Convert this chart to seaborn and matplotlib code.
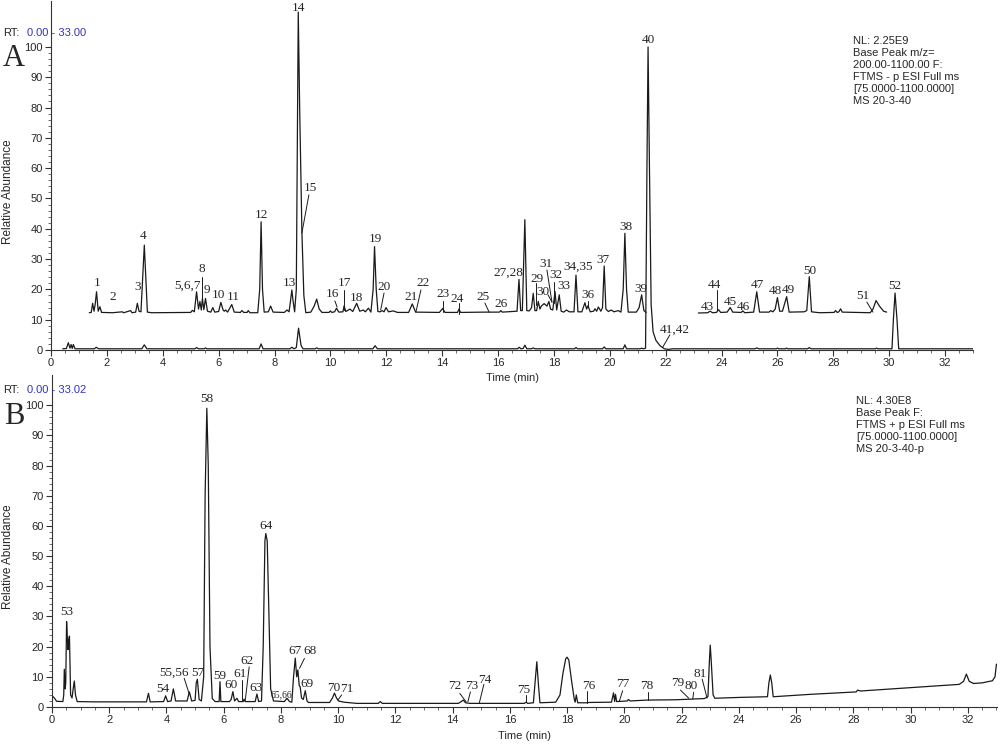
import numpy as np
import pandas as pd
import matplotlib
matplotlib.use('Agg')
import matplotlib.pyplot as plt
from matplotlib.ticker import MultipleLocator, FixedLocator
import seaborn as sns

sns.set_style('ticks')
plt.rcParams['font.family'] = ['Liberation Sans', 'DejaVu Sans']

# ---- panel A : upper (zoomed, offset) trace, first segment ----
a_up1_t = [1.37, 1.44, 1.49, 1.54, 1.58, 1.63, 1.69, 1.75, 1.81, 2.2, 2.55, 2.6, 2.85, 2.9, 3.03, 3.09, 3.15,
           3.22, 3.34, 3.45, 3.6, 5.0, 5.06, 5.13, 5.21, 5.28, 5.33, 5.38, 5.42, 5.47, 5.53, 5.6, 5.72, 5.79,
           5.86, 6.0, 6.08, 6.16, 6.2, 6.25, 6.32, 6.47, 6.56, 6.78, 6.83, 6.9, 7.02, 7.06, 7.12, 7.4, 7.47,
           7.52, 7.57, 7.63, 7.78, 7.86, 7.95, 8.35, 8.45, 8.52, 8.57, 8.62, 8.66, 8.72, 8.78, 8.85, 8.9, 8.98,
           9.05, 9.12, 9.3, 9.42, 9.51, 9.6, 9.7, 9.95, 10.0, 10.05, 10.15, 10.22, 10.3, 10.45, 10.49, 10.55,
           10.7, 10.8, 10.94, 11.05, 11.18, 11.25, 11.36, 11.45, 11.53, 11.58, 11.64, 11.7, 11.78, 11.85,
           11.92, 11.99, 12.08, 12.25, 12.4, 12.8, 12.93, 13.05, 13.9, 14.02, 14.1, 14.55, 14.6, 14.66, 15.5,
           16.05, 16.1, 16.15, 16.55, 16.68, 16.75, 16.81, 16.87, 16.96, 17.03, 17.12, 17.2, 17.26, 17.32,
           17.38, 17.44, 17.5, 17.55, 17.65, 17.75, 17.82, 17.88, 17.96, 18.04, 18.1, 18.19, 18.26, 18.35,
           18.45, 18.55, 18.72, 18.79, 18.86, 19.0, 19.11, 19.17, 19.22, 19.3, 19.42, 19.47, 19.53, 19.59,
           19.68, 19.74, 19.8, 19.86, 19.95, 20.05, 20.15, 20.3, 20.4, 20.48, 20.54, 20.6, 20.66, 20.95,
           21.05, 21.14, 21.22, 21.3]
a_up1_v = [12.3, 12.4, 15.4, 12.8, 15.0, 19.2, 12.8, 14.3, 12.4, 12.3, 12.6, 12.3, 13.0, 12.3, 12.5, 15.4, 12.8,
           12.6, 34.6, 12.5, 12.3, 12.4, 13.1, 12.6, 19.2, 13.5, 16.0, 13.2, 17.0, 13.3, 17.0, 12.8, 12.5, 14.0,
           12.5, 12.7, 15.7, 13.2, 12.8, 13.2, 12.5, 15.0, 12.5, 12.4, 13.0, 12.4, 12.4, 13.0, 12.3, 12.3, 20.0,
           42.3, 20.0, 12.5, 12.6, 14.5, 12.5, 12.4, 13.2, 12.6, 16.0, 19.8, 16.5, 12.6, 20.0, 111.5, 80.0, 39.0,
           18.0, 12.3, 12.5, 14.5, 16.8, 13.5, 12.4, 12.4, 12.9, 12.4, 12.6, 13.8, 12.5, 12.6, 14.6, 12.7,
           13.5, 12.7, 15.4, 12.8, 13.2, 12.6, 13.8, 12.5, 20.0, 34.1, 20.0, 12.7, 12.6, 13.0,
           12.6, 14.0, 12.6, 12.9, 12.4, 12.4, 15.2, 12.5, 12.4, 13.7, 12.4, 12.4, 13.5, 12.4, 12.5,
           12.5, 13.0, 12.5, 12.7, 12.8, 23.3, 13.0, 13.0, 43.0, 13.0, 12.9, 14.0, 18.7, 13.0,
           13.0, 16.0, 13.5, 14.5, 15.3, 14.5, 16.0, 13.5, 13.2, 19.3, 13.2, 18.2, 12.8, 12.5,
           13.2, 12.6, 12.6, 24.7, 12.6, 12.6, 15.6, 13.5, 14.6, 12.6, 12.8, 13.6, 12.8, 14.2,
           12.8, 14.0, 27.7, 13.5, 12.7, 13.2, 12.6, 13.0, 12.5, 20.0, 38.5, 20.0, 12.5, 12.5,
           14.0, 18.2, 13.0, 12.4]

# ---- panel A : upper trace, second segment ----
a_up2_t = [23.17, 23.5, 23.59, 23.68, 23.82, 23.89, 23.97, 24.2, 24.31, 24.4, 24.7, 24.76, 24.83, 25.15, 25.26,
           25.36, 25.7, 25.76, 25.84, 25.92, 26.0, 26.08, 26.18, 26.33, 26.42, 26.95, 27.05, 27.14, 27.22,
           27.5, 28.03, 28.08, 28.14, 28.2, 28.26, 28.32, 29.32, 29.42, 29.53, 29.65, 29.8, 29.91]
a_up2_v = [12.2, 12.3, 12.8, 12.3, 12.4, 13.3, 12.4, 12.5, 14.0, 12.5, 12.4, 12.9, 12.3, 12.5, 19.2,
           12.5, 12.5, 13.0, 12.6, 13.5, 17.3, 12.8, 12.8, 17.6, 12.5, 12.6, 13.0, 24.2, 12.6,
           12.3, 12.4, 13.0, 12.4, 12.6, 13.6, 12.5, 12.3, 13.5, 16.3, 14.5, 12.8, 12.5]

# ---- panel A : lower (full scale) trace ----
a_low_t = [0.42, 0.55, 0.62, 0.68, 0.72, 0.76, 0.8, 0.86, 1.55, 1.62, 1.7, 3.25, 3.34, 3.43, 5.15, 5.21, 5.28,
           5.48, 5.53, 5.58, 7.45, 7.52, 7.59, 8.55, 8.62, 8.7, 8.78, 8.86, 8.95, 9.02, 9.45, 9.51, 9.57,
           11.52, 11.6, 11.68, 16.7, 16.76, 16.82, 16.9, 16.96, 17.03, 17.2, 17.26, 17.32, 18.74, 18.79,
           18.85, 19.74, 19.8, 19.86, 20.48, 20.54, 20.6, 21.08, 21.14, 21.2, 21.28, 21.33, 21.37, 21.42,
           21.48, 21.55, 21.65, 21.8, 21.95, 22.1, 22.25, 25.2, 25.26, 25.33, 25.95, 26.0, 26.05, 26.28,
           26.33, 26.38, 27.08, 27.14, 27.2, 29.5, 29.55, 29.6, 30.1, 30.15, 30.21, 30.28, 30.34, 33.0]
a_low_v = [0.4, 0.5, 2.4, 0.6, 1.8, 0.5, 1.8, 0.4, 0.4, 0.9, 0.4, 0.4, 1.7, 0.4, 0.4, 0.8, 0.4,
           0.4, 0.7, 0.4, 0.4, 2.0, 0.4, 0.4, 0.9, 0.4, 0.8, 7.2, 1.5, 0.4, 0.4, 0.7, 0.4,
           0.4, 1.4, 0.4, 0.4, 0.9, 0.4, 0.5, 1.6, 0.4, 0.4, 0.7, 0.4, 0.4, 0.8,
           0.4, 0.4, 1.0, 0.4, 0.4, 1.7, 0.4, 0.4, 0.6, 0.4, 0.6, 60.0, 100.0, 60.0,
           15.0, 6.0, 3.2, 1.4, 0.4, 0.2, 0.4, 0.4, 0.7, 0.4, 0.4, 0.6, 0.4, 0.4,
           0.6, 0.4, 0.4, 0.8, 0.4, 0.4, 0.6, 0.4, 0.4, 10.0, 18.8, 10.0, 0.4, 0.4]

# ---- panel B trace ----
b_t = [0.0, 0.08, 0.16, 0.38, 0.41, 0.43, 0.46, 0.48, 0.51, 0.54, 0.56, 0.58, 0.61, 0.63, 0.65, 0.7, 0.74,
       0.78, 0.82, 0.88, 1.5, 2.5, 3.3, 3.37, 3.43, 3.9, 3.97, 4.04, 4.16, 4.24, 4.32, 4.72, 4.8, 4.88,
       5.0, 5.04, 5.08, 5.14, 5.22, 5.3, 5.35, 5.41, 5.46, 5.52, 5.6, 5.7, 5.84, 5.87, 5.9, 6.2, 6.26,
       6.32, 6.38, 6.46, 6.52, 6.68, 6.71, 6.75, 7.1, 7.16, 7.22, 7.32, 7.38, 7.44, 7.47, 7.52, 7.58,
       7.64, 7.74, 8.12, 8.21, 8.3, 8.38, 8.44, 8.5, 8.55, 8.59, 8.64, 8.67, 8.72, 8.78, 8.85, 8.91,
       8.96, 9.7, 9.8, 9.87, 9.94, 10.01, 10.2, 10.65, 11.4, 11.47, 11.54, 14.2, 14.3, 14.37, 14.45,
       14.6, 16.5, 16.57, 16.62, 16.82, 16.87, 16.94, 17.0, 17.05, 17.6, 17.75, 17.85, 17.95, 18.0,
       18.06, 18.15, 18.25, 18.28, 18.32, 18.37, 18.7, 18.75, 19.55, 19.62, 19.66, 19.69, 19.73, 20.1,
       20.14, 20.2, 20.8, 21.8, 22.8, 22.92, 22.97, 23.0, 23.03, 23.1, 23.16, 24.1, 25.0, 25.05, 25.1,
       25.15, 25.2, 26.5, 28.1, 28.15, 28.25, 30.0, 31.7, 31.85, 31.95, 32.05, 32.2, 32.5, 32.86,
       32.95, 33.0]
b_v = [3.8, 3.0, 1.9, 1.8, 4.0, 12.5, 6.0, 8.0, 28.3, 22.0, 19.0, 22.0, 23.5, 14.0, 4.0, 3.0, 6.0,
       8.6, 4.0, 1.8, 1.7, 1.7, 1.7, 4.5, 1.7, 1.8, 3.7, 1.8, 2.0, 6.0, 2.0, 2.0, 5.0, 2.0,
       2.2, 8.0, 9.2, 2.5, 2.0, 10.0, 70.0, 99.0, 80.0, 20.0, 2.8, 1.8, 1.8, 8.4, 1.8, 1.8, 2.5,
       5.1, 2.0, 2.9, 1.8, 1.8, 2.6, 1.8, 1.8, 4.3, 1.8, 2.0, 20.0, 55.0, 57.5, 55.0, 30.0,
       6.0, 2.0, 1.8, 2.9, 1.8, 1.6, 10.0, 16.2, 10.0, 12.3, 7.0, 6.8, 3.0, 2.5, 5.4, 2.0,
       1.5, 1.5, 3.0, 4.6, 3.0, 2.0, 1.6, 1.2, 1.2, 1.8, 1.2, 1.2, 1.8, 2.3, 1.4,
       1.2, 1.2, 1.6, 1.2, 1.4, 7.0, 15.0, 7.0, 1.4, 1.6, 4.0, 11.0, 16.0, 16.5,
       15.5, 9.0, 2.5, 1.6, 4.0, 1.4, 1.4, 1.5, 1.6, 4.7, 1.8, 4.2, 1.8, 2.0,
       2.5, 2.0, 2.3, 2.4, 2.8, 3.5, 15.0, 20.5, 16.0, 4.0, 2.9, 3.2, 3.4, 8.0, 10.6,
       8.0, 3.4, 4.2, 5.0, 5.6, 5.3, 6.4, 7.5, 8.5, 10.9, 8.5, 7.8, 8.0, 8.7,
       10.0, 14.2]

# ---- peak labels ----
a_lab = ['1', '2', '3', '4', '5,6,7', '8', '9', '10', '11', '12', '13', '14', '15', '16', '17', '18', '19',
         '20', '21', '22', '23', '24', '25', '26', '27,28', '29', '30', '31', '32', '33', '34,35', '36', '37',
         '38', '39', '40', '41,42', '43', '44', '45', '46', '47', '48', '49', '50', '51', '52']
a_lab_t = [1.64, 2.22, 3.11, 3.29, 4.87, 5.4, 5.58, 5.98, 6.51, 7.55, 8.55, 8.84, 9.27, 10.09, 10.49, 10.95,
           11.6, 11.92, 12.88, 13.31, 14.03, 14.53, 15.46, 16.11, 16.36, 17.39, 17.61, 17.72, 18.07, 18.36,
           18.86, 19.22, 19.76, 20.58, 21.12, 21.37, 22.33, 23.48, 23.73, 24.3, 24.77, 25.27, 25.91, 26.38,
           27.16, 29.06, 30.21]
a_lab_v = [22.0, 17.5, 20.8, 37.6, 21.1, 26.7, 19.8, 18.2, 17.5, 44.6, 22.1, 112.9, 53.5, 18.5, 22.1, 17.2,
           36.6, 20.8, 17.5, 22.1, 18.5, 16.8, 17.5, 15.2, 25.4, 23.4, 19.1, 28.4, 24.8, 21.1,
           27.4, 18.2, 29.7, 40.6, 20.1, 102.3, 6.6, 14.2, 21.5, 15.8, 14.2, 21.5, 19.5, 19.8,
           26.1, 17.8, 21.1]
# leader lines: t0, v0, t1, v1
a_lead_t0 = [5.4, 9.23, 10.16, 10.5, 11.92, 13.24, 14.03, 14.6, 15.53, 17.36, 17.79, 17.75, 18.0, 19.22, 22.15, 23.84, 29.2]
a_lead_v0 = [24.1, 51.2, 16.2, 19.8, 18.8, 19.8, 16.2, 15.5, 15.5, 22.0, 18.2, 26.4, 22.4, 16.2, 5.0, 19.8, 15.8]
a_lead_t1 = [5.4, 8.98, 10.24, 10.5, 11.8, 13.06, 14.03, 14.6, 15.68, 17.36, 17.93, 17.93, 18.0, 19.22, 21.9, 23.84, 29.42]
a_lead_v1 = [16.5, 38.6, 14.2, 13.2, 13.2, 12.5, 12.5, 11.9, 12.5, 14.8, 15.8, 15.8, 15.5, 14.2, 1.0, 13.2, 12.5]

b_lab = ['53', '54', '55,56', '57', '58', '59', '60', '61', '62', '63', '64', '67', '68', '69', '70',
         '71', '72', '73', '74', '75', '76', '77', '78', '79', '80', '81']
b_lab_t = [0.51, 3.86, 4.28, 5.09, 5.41, 5.87, 6.26, 6.57, 6.83, 7.13, 7.47, 8.5, 9.0, 8.9, 9.84,
           10.3, 14.06, 14.66, 15.12, 16.48, 18.74, 19.96, 20.79, 21.85, 22.33, 22.65]
b_lab_v = [31.4, 6.0, 11.2, 11.2, 101.9, 10.3, 7.3, 10.9, 15.3, 6.2, 59.9, 18.5, 18.5, 7.5, 6.2,
           6.0, 7.1, 7.1, 9.1, 5.8, 7.1, 7.6, 7.1, 7.8, 7.0, 11.1]
b_lead_t0 = [4.62, 6.64, 6.89, 8.82, 10.12, 14.25, 14.62, 15.09, 16.57, 18.71, 19.94, 20.82, 21.96, 22.42, 22.72]
b_lead_v0 = [9.5, 8.9, 13.3, 16.1, 4.0, 4.5, 5.0, 7.5, 4.0, 5.4, 5.4, 5.0, 5.6, 4.9, 9.2]
b_lead_t1 = [4.79, 6.64, 6.75, 8.65, 9.99, 14.47, 14.53, 14.93, 16.57, 18.71, 19.82, 20.82, 22.25, 22.39, 22.89]
b_lead_v1 = [4.5, 2.1, 2.0, 12.8, 2.3, 1.7, 1.7, 1.3, 1.5, 1.2, 1.8, 2.3, 2.9, 2.7, 2.9]

info_a = 'NL: 2.25E9\nBase Peak m/z=\n200.00-1100.00 F:\nFTMS - p ESI Full ms\n[75.0000-1100.0000]\nMS 20-3-40'
info_b = 'NL: 4.30E8\nBase Peak F:\nFTMS + p ESI Full ms\n[75.0000-1100.0000]\nMS 20-3-40-p'

SERIF = ['Liberation Serif', 'DejaVu Serif']
LC = '#1a1a1a'

fig = plt.figure(figsize=(10, 7.45), dpi=100)
axA = fig.add_axes([0.051, 0.5302, 0.922, 0.4678])
axB = fig.add_axes([0.052, 0.051, 0.945, 0.4456])


def trace(ax, t, v):
    df = pd.DataFrame({'time': t, 'abundance': v})
    sns.lineplot(data=df, x='time', y='abundance', ax=ax, color=LC, lw=0.9,
                 estimator=None, sort=False, legend=False)


trace(axA, a_up1_t, a_up1_v)
trace(axA, a_up2_t, a_up2_v)
trace(axA, a_low_t, a_low_v)
trace(axB, b_t, b_v)

for lab, t, v in zip(a_lab, a_lab_t, a_lab_v):
    axA.text(t, v, lab, ha='center', va='center', fontsize=9.5, family=SERIF, clip_on=False)
for t0, v0, t1, v1 in zip(a_lead_t0, a_lead_v0, a_lead_t1, a_lead_v1):
    axA.plot([t0, t1], [v0, v1], color=LC, lw=0.7)
for lab, t, v in zip(b_lab, b_lab_t, b_lab_v):
    axB.text(t, v, lab, ha='center', va='center', fontsize=9.5, family=SERIF, clip_on=False)
axB.text(8.03, 4.2, '65,66', ha='center', va='center', fontsize=7, family=SERIF)
for t0, v0, t1, v1 in zip(b_lead_t0, b_lead_v0, b_lead_t1, b_lead_v1):
    axB.plot([t0, t1], [v0, v1], color=LC, lw=0.7)

for ax, xmax, ytop, ly, lp in [(axA, 33.0, 115, 0.453, 3), (axB, 33.02, 110, 0.452, 4)]:
    ax.set_xlim(0, xmax)
    ax.set_ylim(0, ytop)
    ax.set_xticks(np.arange(0, 33, 2))
    ax.xaxis.set_minor_locator(MultipleLocator(0.5))
    ax.set_yticks(np.arange(0, 101, 10))
    ax.yaxis.set_minor_locator(FixedLocator(np.arange(0, 101, 2)))
    ax.tick_params(which='major', length=4, width=0.8, labelsize=8, pad=2, color='#333333')
    ax.tick_params(which='minor', length=2.5, width=0.6, color='#555555')
    for s in ['top', 'right']:
        ax.spines[s].set_visible(False)
    for s in ['left', 'bottom']:
        ax.spines[s].set_linewidth(0.8)
        ax.spines[s].set_color('#333333')
    ax.set_xlabel('Time (min)', fontsize=8, labelpad=lp)
    ax.set_ylabel('Relative Abundance', fontsize=8.5)
    ax.yaxis.set_label_coords(-0.04, ly)
    ax.patch.set_alpha(0)

fig.text(0.003, 1 - 33 / 745, 'RT:', fontsize=8, va='center')
fig.text(0.027, 1 - 33 / 745, '0.00 - 33.00', fontsize=8, va='center', color='#3333bb')
fig.text(0.003, 1 - 390 / 745, 'RT:', fontsize=8, va='center')
fig.text(0.027, 1 - 390 / 745, '0.00 - 33.02', fontsize=8, va='center', color='#3333bb')
fig.text(0.014, 1 - 58 / 745, 'A', fontsize=22, family=SERIF, ha='center', va='center')
fig.text(0.014, 1 - 417 / 745, 'B', fontsize=22, family=SERIF, ha='center', va='center')
fig.text(0.853, 1 - 36 / 745, info_a, fontsize=8, va='top', linespacing=1.25)
fig.text(0.856, 1 - 396 / 745, info_b, fontsize=8, va='top', linespacing=1.25)

fig.savefig('out.png', dpi=100, facecolor='white')
